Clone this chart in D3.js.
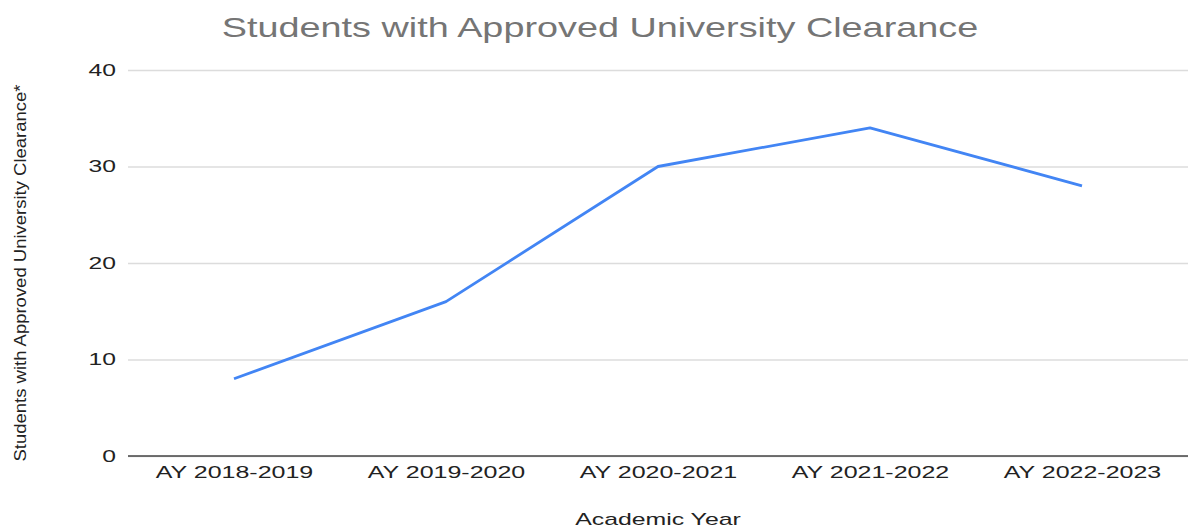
<!DOCTYPE html>
<html><head><meta charset="utf-8">
<script src="https://cdn.jsdelivr.net/npm/d3@7"></script>
<style>body{margin:0;background:#fff}svg{display:block}</style>
</head><body>
<script>
const categories = ["AY 2018-2019","AY 2019-2020","AY 2020-2021","AY 2021-2022","AY 2022-2023"];
const values = [8, 16, 30, 34, 28];
const yTicks = [0, 10, 20, 30, 40];
const title = "Students with Approved University Clearance";
const xTitle = "Academic Year";
const yTitle = "Students with Approved University Clearance*";

(function () {
const W = 1188, H = 529;
const svg = d3.select("body").append("svg").attr("width", W).attr("height", H);
const mLeft = 128, mRight = 1188, mTop = 70, mBottom = 456;
const x = d3.scalePoint().domain(categories).range([mLeft, mRight]).padding(0.5);
const y = d3.scaleLinear().domain([0, 40]).range([mBottom, mTop]);
const FONT = "Liberation Sans, Arial, sans-serif";

function stretch(sel, f) {
  sel.each(function () {
    const w = this.getComputedTextLength();
    d3.select(this).attr("textLength", w * f).attr("lengthAdjust", "spacingAndGlyphs");
  });
}

const t = svg.append("text").attr("x", 600).attr("y", 37).attr("text-anchor", "middle")
  .attr("font-family", FONT).attr("font-size", 28)
  .attr("fill", "#757575").text(title);
stretch(t, 1.35);

const gy = svg.append("g").attr("transform", `translate(${mLeft},0)`)
  .call(d3.axisLeft(y).tickValues(yTicks).tickSize(-(mRight-mLeft)).tickPadding(12));
gy.select(".domain").remove();
gy.selectAll(".tick line").attr("stroke", "#dcdcdc").attr("stroke-width", 1.5);
gy.selectAll(".tick text").attr("font-family", FONT)
  .attr("font-size", 17).attr("fill", "#222");
stretch(gy.selectAll(".tick text"), 1.45);

const gx = svg.append("g").attr("transform", `translate(0,${mBottom})`)
  .call(d3.axisBottom(x).tickSize(0).tickPadding(10));
gx.select(".domain").attr("stroke", "#444").attr("stroke-width", 1.5)
  .attr("d", `M${mLeft},0H${mRight}`);
gx.selectAll(".tick text").attr("font-family", FONT)
  .attr("font-size", 17).attr("fill", "#222");
stretch(gx.selectAll(".tick text"), 1.47);

const line = d3.line().x((d, i) => x(categories[i])).y(d => y(d));
svg.append("path").datum(values).attr("d", line).attr("fill", "none")
  .attr("stroke", "#4285F4").attr("stroke-width", 2.8).attr("stroke-linejoin", "round");

const xt = svg.append("text").attr("x", 658).attr("y", 525).attr("text-anchor", "middle")
  .attr("font-family", FONT).attr("font-size", 17)
  .attr("fill", "#222").text(xTitle);
stretch(xt, 1.46);

const yt = svg.append("text").attr("transform", "translate(26,273) rotate(-90)").attr("text-anchor", "middle")
  .attr("font-family", FONT).attr("font-size", 17)
  .attr("fill", "#222").text(yTitle);
yt.attr("textLength", 377).attr("lengthAdjust", "spacingAndGlyphs");
})();
</script>
</body></html>
